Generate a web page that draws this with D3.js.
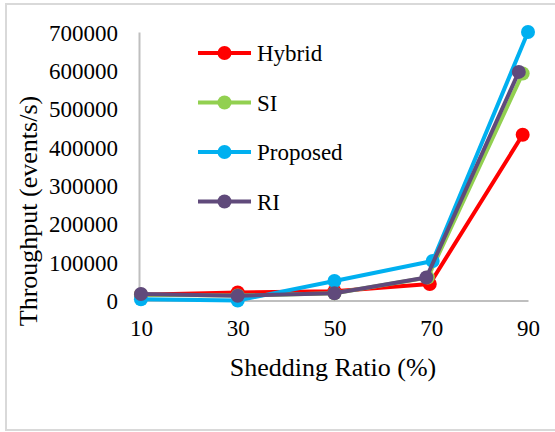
<!DOCTYPE html>
<html>
<head>
<meta charset="utf-8">
<script src="https://cdn.jsdelivr.net/npm/d3@7"></script>
<style>
  body { margin: 0; background: #fff; }
  text { font-family: "Liberation Serif", "Times New Roman", serif; fill: #000; }
</style>
</head>
<body>
<div id="wrapper"></div>
<script>
'use strict';
// x tick labels
const xTicks = [10, 30, 50, 70, 90];
const yTicks = [0, 100000, 200000, 300000, 400000, 500000, 600000, 700000];

const seriesNames = ['Hybrid', 'SI', 'Proposed', 'RI'];
const seriesColours = ['#ff0000', '#92d050', '#00b0f0', '#604a7b'];

// x values as plotted (the last points sit slightly left of 90)
const hybridX = [10, 30, 50, 69.7, 88.9];
const hybridY = [15000, 21000, 24000, 43000, 432000];
const siX = [10, 30, 50, 69.3, 88.9];
const siY = [15000, 13000, 19000, 60000, 592000];
const proposedX = [10, 30, 50, 70.3, 90];
const proposedY = [3000, 0, 51000, 103000, 700000];
const riX = [10, 30, 50, 69, 88.1];
const riY = [17000, 12500, 19000, 60000, 596000];

function drawChart () {
  const xs = [hybridX, siX, proposedX, riX];
  const ys = [hybridY, siY, proposedY, riY];
  const series = seriesNames.map((name, i) => ({
    name,
    colour: seriesColours[i],
    values: xs[i].map((x, j) => ({x, y: ys[i][j]}))
  }));

  const dimensions = {width: 555, height: 432};

  const svg = d3.select('#wrapper').append('svg')
    .attr('width', dimensions.width)
    .attr('height', dimensions.height);

  // outer chart border
  svg.append('rect')
    .attr('x', 6).attr('y', 4)
    .attr('width', 560).attr('height', 426)
    .attr('fill', 'none')
    .attr('stroke', '#d9d9d9')
    .attr('stroke-width', 2);

  const xScale = d3.scaleLinear().domain([9.6, 90]).range([139, 528]);
  const yScale = d3.scaleLinear().domain([0, 700000]).range([300.5, 32]);

  // axes
  const yAxis = svg.append('g')
    .attr('transform', `translate(${xScale(9.6)},0)`)
    .call(d3.axisLeft(yScale).tickValues(yTicks).tickSize(0).tickPadding(21).tickFormat(d3.format('d')));
  yAxis.select('.domain').attr('stroke', '#bfbfbf').attr('stroke-width', 2);
  yAxis.selectAll('text').style('font-size', '23px').attr('dy', '0.35em');

  const xAxis = svg.append('g')
    .attr('transform', `translate(0,${yScale(0)})`)
    .call(d3.axisBottom(xScale).tickValues(xTicks).tickSize(0).tickPadding(19));
  xAxis.select('.domain').attr('stroke', '#bfbfbf').attr('stroke-width', 2);
  xAxis.selectAll('text').style('font-size', '23px').attr('dy', '0.71em');

  // axis titles
  svg.append('text')
    .attr('x', 333).attr('y', 376)
    .attr('text-anchor', 'middle')
    .style('font-size', '26px')
    .text('Shedding Ratio (%)');

  svg.append('text')
    .attr('transform', 'translate(37,211) rotate(-90)')
    .attr('text-anchor', 'middle')
    .style('font-size', '26px')
    .text('Throughput (events/s)');

  // lines + markers
  const line = d3.line().x(d => xScale(d.x)).y(d => yScale(d.y));
  const groups = svg.selectAll('g.series').data(series).join('g').attr('class', 'series');
  groups.append('path')
    .attr('d', d => line(d.values))
    .attr('fill', 'none')
    .attr('stroke', d => d.colour)
    .attr('stroke-width', 4)
    .attr('stroke-linejoin', 'round');
  groups.selectAll('circle').data(d => d.values.map(v => ({...v, colour: d.colour})))
    .join('circle')
    .attr('cx', d => xScale(d.x))
    .attr('cy', d => yScale(d.y))
    .attr('r', 7)
    .attr('fill', d => d.colour);

  // legend
  const legend = svg.append('g').attr('transform', 'translate(198,53)');
  const items = legend.selectAll('g').data(series).join('g')
    .attr('transform', (d, i) => `translate(0,${i * 49.5})`);
  items.append('line')
    .attr('x1', 0).attr('x2', 53)
    .attr('stroke', d => d.colour).attr('stroke-width', 4);
  items.append('circle')
    .attr('cx', 26.5).attr('r', 7)
    .attr('fill', d => d.colour);
  items.append('text')
    .attr('x', 59).attr('dy', '0.35em')
    .style('font-size', '23px')
    .text(d => d.name);
}
drawChart();
</script>
</body>
</html>
